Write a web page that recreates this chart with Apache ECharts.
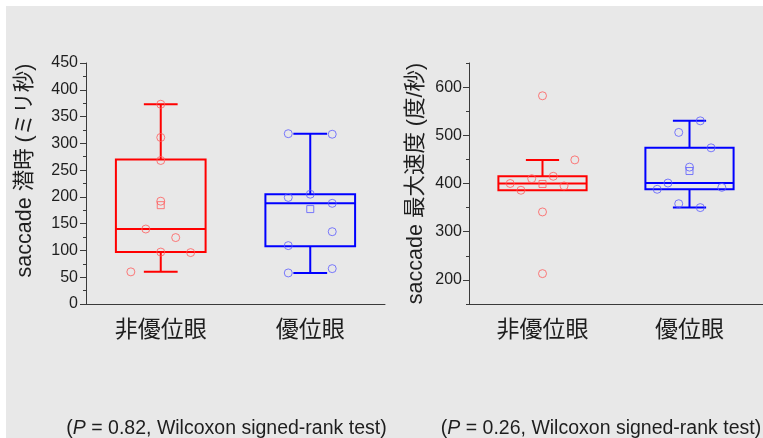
<!DOCTYPE html>
<html>
<head>
<meta charset="utf-8">
<script src="https://cdn.jsdelivr.net/npm/echarts@6/dist/echarts.min.js"></script>
<style>
  html, body { margin: 0; padding: 0; background: #ffffff; }
  #chart { width: 763px; height: 438px; }
</style>
</head>
<body>
<div id="chart"></div>
<script>
// Saccade latency and peak velocity, non-dominant vs dominant eye
const categories = ['非優位眼', '優位眼'];

// individual subjects (ms)
const latencyNonDominant = [60, 96, 97, 124, 140, 192, 268, 311, 373];
const latencyDominant = [58, 66, 109, 135, 188, 199, 205, 317, 318];
// individual subjects (deg/s)
const velocityNonDominant = [213, 341, 386, 395, 400, 410, 415, 449, 582];
const velocityDominant = [350, 358, 388, 392, 401, 434, 474, 506, 530];

// box statistics: [lower whisker, Q1, median, Q3, upper whisker]
const latencyBoxes = [[60, 97, 140, 270, 373], [58, 108, 188, 205, 318]];
const velocityBoxes = [[386, 386, 400, 415, 449], [350, 388, 401, 474, 530]];

// axis ticks
const latencyTicks = [0, 50, 100, 150, 200, 250, 300, 350, 400, 450];
const velocityTicks = [200, 300, 400, 500, 600];
const velocityMinorTicks = [150, 250, 350, 450, 550, 650];

const pValues = [0.82, 0.26];

// horizontal spread slots of the dots beside each box
const latencySlots = [[-2, 2, 0, 1, -1, 0, 0, 0, 0], [-1, 1, -1, 1, 1, -1, 0, 1, -1]];
const velocitySlots = [[0, 0, -2, 2, -3, -1, 1, 3, 0], [1, -1, -3, 3, -2, 0, 2, -1, 1]];
const latencySlotStep = [0.1, 0.147];
const velocitySlotStep = [0.0733, 0.0733];

const boxColors = ['#ff0000', '#0000ff'];
const dotColors = ['#ff5c5c', '#5c5cff'];
const axisColor = '#3a3a3a';
const textColor = '#1e1e1e';
const latinFont = '"Liberation Sans", Arial, sans-serif';
const cjkFont = '"Liberation Sans", "Noto Sans CJK JP", sans-serif';

const mean = arr => arr.reduce((a, b) => a + b, 0) / arr.length;

function boxRenderer(params, api) {
  const cat = api.value(0);
  const lo = api.value(1), q1 = api.value(2), md = api.value(3), q3 = api.value(4), hi = api.value(5);
  const band = api.size([1, 0])[0];
  const w = band * 0.6;
  const cap = band * 0.113;
  const cx = api.coord([cat, md])[0];
  const y = v => api.coord([cat, v])[1];
  const color = boxColors[cat];
  const ls = { stroke: color, lineWidth: 2, fill: null };
  const children = [
    { type: 'rect', shape: { x: cx - w / 2, y: y(q3), width: w, height: y(q1) - y(q3) }, style: ls },
    { type: 'line', shape: { x1: cx - w / 2, y1: y(md), x2: cx + w / 2, y2: y(md) }, style: ls }
  ];
  if (hi > q3) {
    children.push({ type: 'line', shape: { x1: cx, y1: y(q3), x2: cx, y2: y(hi) }, style: ls });
    children.push({ type: 'line', shape: { x1: cx - cap, y1: y(hi), x2: cx + cap, y2: y(hi) }, style: ls });
  }
  if (lo < q1) {
    children.push({ type: 'line', shape: { x1: cx, y1: y(q1), x2: cx, y2: y(lo) }, style: ls });
    children.push({ type: 'line', shape: { x1: cx - cap, y1: y(lo), x2: cx + cap, y2: y(lo) }, style: ls });
  }
  return { type: 'group', children };
}

function panelSeries(gridIdx, boxes, groups, slots, steps) {
  const catAxis = gridIdx * 2;
  const valAxis = gridIdx * 2 + 1;
  const yIdx = gridIdx === 0 ? 0 : 1;
  const out = [{
    type: 'custom',
    xAxisIndex: catAxis,
    yAxisIndex: yIdx,
    z: 2,
    silent: true,
    renderItem: boxRenderer,
    data: boxes.map((b, i) => [i].concat(b))
  }];
  groups.forEach((vals, i) => {
    out.push({
      type: 'scatter',
      xAxisIndex: valAxis,
      yAxisIndex: yIdx,
      z: 3,
      symbol: 'circle',
      symbolSize: 8,
      itemStyle: { color: 'rgba(0,0,0,0)', borderColor: dotColors[i], borderWidth: 1 },
      data: vals.map((v, k) => [i + slots[i][k] * steps[i], v])
    });
    out.push({
      type: 'scatter',
      xAxisIndex: valAxis,
      yAxisIndex: yIdx,
      z: 3,
      symbol: 'rect',
      symbolSize: 7,
      itemStyle: { color: 'rgba(0,0,0,0)', borderColor: dotColors[i], borderWidth: 1 },
      data: [[i, mean(vals)]]
    });
  });
  return out;
}

function categoryAxis(gridIndex) {
  return {
    type: 'category',
    gridIndex,
    data: categories,
    boundaryGap: true,
    axisLine: { onZero: false, lineStyle: { color: axisColor, width: 1 } },
    axisTick: { alignWithLabel: true, length: 5, lineStyle: { color: axisColor } },
    axisLabel: { color: textColor, fontSize: 23, fontFamily: '"Noto Sans CJK JP", sans-serif', margin: 13 },
    splitLine: { show: false }
  };
}

function spreadAxis(gridIndex) {
  return { type: 'value', gridIndex, min: -0.5, max: 1.5, show: false, axisLine: { onZero: false } };
}

const chart = echarts.init(document.getElementById('chart'), null, { renderer: 'canvas' });

chart.setOption({
  backgroundColor: '#ffffff',
  animation: false,
  grid: [
    { left: 86, top: 63, width: 299, height: 241 },
    { left: 469, top: 63, width: 300, height: 241 }
  ],
  xAxis: [categoryAxis(0), spreadAxis(0), categoryAxis(1), spreadAxis(1)],
  yAxis: [
    {
      type: 'value',
      gridIndex: 0,
      min: latencyTicks[0],
      max: latencyTicks[latencyTicks.length - 1],
      interval: latencyTicks[1] - latencyTicks[0],
      name: 'saccade 潜時 (ミリ秒)',
      nameLocation: 'middle',
      nameGap: 50,
      nameRotate: 90,
      nameTextStyle: { color: textColor, fontSize: 21.5, fontFamily: cjkFont, padding: [0, 0, 0, 26] },
      axisLine: { show: true, onZero: false, lineStyle: { color: axisColor, width: 1 } },
      axisTick: { show: true, length: 6, lineStyle: { color: axisColor } },
      minorTick: { show: true, splitNumber: 2, length: 3, lineStyle: { color: axisColor } },
      axisLabel: { color: textColor, fontSize: 16, fontFamily: latinFont, margin: 8 },
      splitLine: { show: false },
      minorSplitLine: { show: false }
    },
    {
      type: 'value',
      gridIndex: 1,
      min: velocityMinorTicks[0],
      max: velocityMinorTicks[velocityMinorTicks.length - 1],
      name: 'saccade 最大速度 (度/秒)',
      nameLocation: 'middle',
      nameGap: 42,
      nameRotate: 90,
      nameTextStyle: { color: textColor, fontSize: 21.5, fontFamily: cjkFont },
      axisLine: { show: true, onZero: false, lineStyle: { color: axisColor, width: 1 } },
      axisTick: { show: true, length: 6, customValues: velocityTicks, lineStyle: { color: axisColor } },
      axisLabel: { color: textColor, fontSize: 16, fontFamily: latinFont, margin: 7, customValues: velocityTicks },
      splitLine: { show: false }
    },
    {
      type: 'value',
      gridIndex: 1,
      min: velocityMinorTicks[0],
      max: velocityMinorTicks[velocityMinorTicks.length - 1],
      position: 'left',
      axisLine: { show: false, onZero: false },
      axisTick: { show: true, length: 3, customValues: velocityMinorTicks, lineStyle: { color: axisColor } },
      axisLabel: { show: false },
      splitLine: { show: false }
    }
  ],
  graphic: [
    { type: 'rect', silent: true, z: -10, shape: { x: 6, y: 6, width: 757, height: 432 }, style: { fill: '#e8e8e8' } },
    {
      type: 'text', silent: true, x: 226.5, y: 429,
      style: {
        text: '({i|P} = ' + pValues[0].toFixed(2) + ', Wilcoxon signed-rank test)',
        rich: { i: { fontStyle: 'italic', fontSize: 19.5, fontFamily: latinFont, fill: textColor } },
        fontSize: 19.5, fontFamily: latinFont, fill: textColor,
        textAlign: 'center', textVerticalAlign: 'middle'
      }
    },
    {
      type: 'text', silent: true, x: 601, y: 429,
      style: {
        text: '({i|P} = ' + pValues[1].toFixed(2) + ', Wilcoxon signed-rank test)',
        rich: { i: { fontStyle: 'italic', fontSize: 19.5, fontFamily: latinFont, fill: textColor } },
        fontSize: 19.5, fontFamily: latinFont, fill: textColor,
        textAlign: 'center', textVerticalAlign: 'middle'
      }
    }
  ],
  series: [].concat(
    panelSeries(0, latencyBoxes, [latencyNonDominant, latencyDominant], latencySlots, latencySlotStep),
    panelSeries(1, velocityBoxes, [velocityNonDominant, velocityDominant], velocitySlots, velocitySlotStep)
  )
});
</script>
</body>
</html>
